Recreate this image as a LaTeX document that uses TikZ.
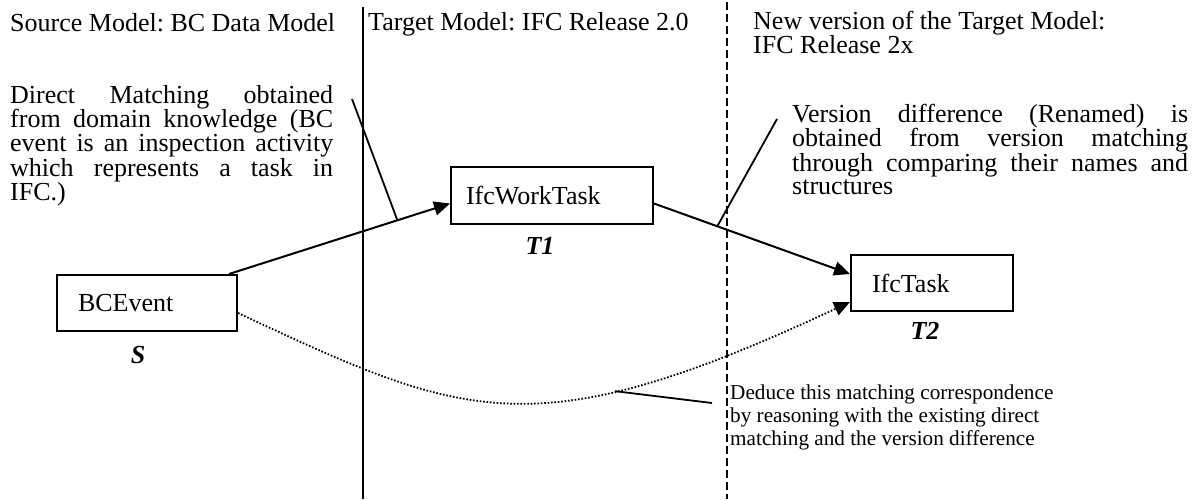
\documentclass[tikz,border=0pt]{standalone}
\usepackage{fontspec}
\setmainfont{Liberation Serif}
\usetikzlibrary{arrows.meta,calc}
\frenchspacing
\newcommand\jline[1]{\hbox to\linewidth{\spaceskip=.25em plus 1fil\relax #1}}
\begin{document}
\begin{tikzpicture}[x=1pt,y=-1pt,
  font=\fontsize{26}{23.5}\selectfont,
  box/.style={draw, line width=2pt, rectangle, minimum height=56pt, inner ysep=0pt, align=left},
  lbl/.style={font=\fontsize{26}{23.5}\selectfont\bfseries\itshape, inner sep=0pt},
  txt/.style={anchor=base west, inner sep=0pt},
  conn/.style={line width=2pt},
  arr/.style={conn, -{Triangle[length=16pt,width=14pt]}},
  dotarr/.style={line width=1.8pt, dash pattern=on 1.6pt off 1.8pt, -{Triangle[length=16pt,width=14pt]}},
  leader/.style={line width=1.8pt},
  sepline/.style={line width=2.2pt},
  dashsep/.style={line width=2pt, dash pattern=on 8pt off 4pt},
]
\useasboundingbox (0,0) rectangle (1202,499);

% separators
\coordinate (sA) at (363,7);
\coordinate (sB) at (363,499);
\coordinate (dA) at (727,2);
\coordinate (dB) at (727,499);
\draw[sepline] (sA) -- (sB);
\draw[dashsep] (dA) -- (dB);

% titles
\node[txt] (title1) at (10,31) {Source Model: BC Data Model};
\node[txt] (title2) at (368,30) {Target Model: IFC Release 2.0};
\node[txt] (title3) at (753,29) {\parbox[t]{440pt}{New version of the Target Model:\\IFC Release 2x}};

% boxes
\node[box, text width=138pt, inner xsep=21pt] (S) at (147,303) {BCEvent};
\node[box, text width=172pt, inner xsep=15pt, minimum height=57pt] (T1) at (552,195.5) {IfcWorkTask};
\node[box, text width=120pt, inner xsep=21pt] (T2) at (932,283) {IfcTask};

\node[lbl] (lS) at (138,355) {S};
\node[lbl] (lT1) at (540,246) {T1};
\node[lbl] (lT2) at (925,331) {T2};

% explanations
\node[txt] (dm) at (10,103) {\parbox[t]{323pt}{%
\jline{Direct Matching obtained}
\jline{from domain knowledge (BC}
\jline{event is an inspection activity}
\jline{which represents a task in}
\hbox{IFC.)}}};
\node[txt] (vd) at (792,122) {\parbox[t]{396pt}{%
\jline{Version difference (Renamed) is}
\jline{obtained from version matching}
\jline{through comparing their names and}
\hbox{structures}}};
\node[txt, font=\fontsize{21.2}{23}\selectfont] (dd) at (730,399) {\parbox[t]{340pt}{%
\hbox{Deduce this matching correspondence}
\hbox{by reasoning with the existing direct}
\hbox{matching and the version difference}}};

% connectors
\draw[arr] ($(S.north east)+(-9,0)$) -- coordinate[pos=0.762] (a1) ($(T1.west)+(0,8)$);
\draw[arr] ($(T1.east)+(0,8)$) -- coordinate[pos=0.323] (a2) ($(T2.west)+(0,-9)$);
\draw[dotarr] ($(S.east)+(0,10)$) .. controls (465,419) and (533,450) .. coordinate[pos=0.69] (a3) ($(T2.west)+(0,19)$);

% leaders
\coordinate (dmL) at (352,99);
\coordinate (vdL) at (777,119);
\coordinate (ddL) at (712,403);
\draw[leader] (dmL) -- (a1);
\draw[leader] (vdL) -- (a2);
\draw[leader] (ddL) -- (a3);
\end{tikzpicture}
\end{document}
